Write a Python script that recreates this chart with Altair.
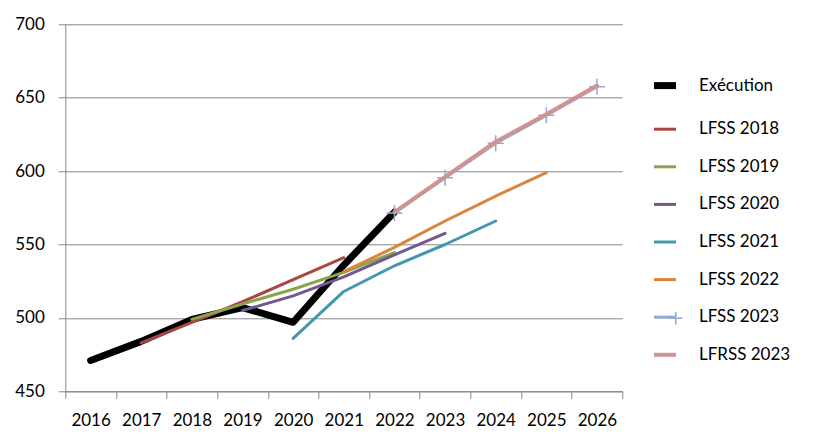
import altair as alt
import pandas as pd

# ---- data ----
series_names = ["Exécution", "LFSS 2018", "LFSS 2019", "LFSS 2020",
                "LFSS 2021", "LFSS 2022", "LFSS 2023", "LFRSS 2023"]

execution_years = [2016, 2017, 2018, 2019, 2020, 2021, 2022]
execution = [471, 484, 499, 507, 497, 536, 572]

lfss2018_years = [2017, 2018, 2019, 2020, 2021]
lfss2018 = [483, 497, 511, 526, 541]

lfss2019_years = [2018, 2019, 2020, 2021, 2022]
lfss2019 = [499, 509.5, 519.5, 531, 544.5]

lfss2020_years = [2019, 2020, 2021, 2022, 2023]
lfss2020 = [505, 515, 528, 543, 557.5]

lfss2021_years = [2020, 2021, 2022, 2023, 2024]
lfss2021 = [486, 518, 535.5, 550, 566]

lfss2022_years = [2021, 2022, 2023, 2024, 2025]
lfss2022 = [531.5, 548, 566, 583, 599]

lfss2023_years = [2022, 2023, 2024, 2025, 2026]
lfss2023 = [571.5, 595.5, 619, 638, 657.5]

lfrss2023_years = [2022, 2023, 2024, 2025, 2026]
lfrss2023 = [572, 596, 620, 638.7, 658.3]

x_tick_years = list(range(2016, 2027))
y_ticks = [450, 500, 550, 600, 650, 700]

colors = ["#000000", "#AA4643", "#89A54E", "#71588F",
          "#4198AF", "#DB843D", "#93A9CF", "#D19392"]
widths = [7, 3, 3, 3, 3, 3, 3, 4]

all_series = [
    ("Exécution", execution_years, execution),
    ("LFSS 2018", lfss2018_years, lfss2018),
    ("LFSS 2019", lfss2019_years, lfss2019),
    ("LFSS 2020", lfss2020_years, lfss2020),
    ("LFSS 2021", lfss2021_years, lfss2021),
    ("LFSS 2022", lfss2022_years, lfss2022),
    ("LFSS 2023", lfss2023_years, lfss2023),
    ("LFRSS 2023", lfrss2023_years, lfrss2023),
]
rows = []
for name, yrs, vals in all_series:
    for yr, v in zip(yrs, vals):
        rows.append({"series": name, "year": yr, "value": v, "mk": name})
df = pd.DataFrame(rows)

FONT = "Lato"
GRAY = "#868686"

x_enc = alt.X(
    "year:Q",
    scale=alt.Scale(domain=[x_tick_years[0] - 0.5, x_tick_years[-1] + 0.5], nice=False, zero=False),
    axis=alt.Axis(
        values=[y - 0.5 for y in x_tick_years] + [x_tick_years[-1] + 0.5],
        labelExpr="datum.value > 2026 ? '' : format(datum.value + 0.5, 'd')",
        labelOffset=25.3, tickSize=7, labelPadding=14, grid=False, title=None,
        labelFlush=False, labelOverlap=False, labelBound=False,
    ),
)
y_enc = alt.Y(
    "value:Q",
    scale=alt.Scale(domain=[450, 700], nice=False, zero=False),
    axis=alt.Axis(values=y_ticks, tickSize=7, labelPadding=14, grid=True, title=None),
)

legend_cfg = dict(
    title=None, orient="none", legendX=591.2, legendY=52.8,
    symbolType="M-2.2,0H2.2", symbolSize=100, labelFont=FONT, labelFontSize=17,
    labelColor="black", labelOffset=25.5, rowPadding=19.6, padding=0,
)

color_enc = alt.Color(
    "series:N",
    scale=alt.Scale(domain=series_names, range=colors),
    legend=alt.Legend(**legend_cfg),
)
width_enc = alt.StrokeWidth(
    "series:N",
    scale=alt.Scale(type="ordinal", domain=series_names, range=widths),
    legend=alt.Legend(**legend_cfg),
)

base = alt.Chart(df)

lines_main = base.transform_filter(
    alt.datum.series != "LFRSS 2023"
).mark_line(strokeCap="round", strokeJoin="round").encode(
    x=x_enc, y=y_enc, color=color_enc, strokeWidth=width_enc,
    order=alt.Order("year:Q"),
)

markers = base.transform_filter(
    alt.datum.series == "LFSS 2023"
).mark_point(filled=False, size=256, strokeWidth=1.5, color="#93A9CF", opacity=1).encode(
    x=x_enc, y=y_enc,
    shape=alt.Shape(
        "mk:N",
        scale=alt.Scale(domain=["LFSS 2023"], range=["M-1,0H1M0,-1V1"]),
        legend=alt.Legend(
            title=None, orient="none", legendX=603, legendY=286.5,
            labelExpr="''", symbolSize=169, symbolStrokeColor="#93A9CF",
            symbolStrokeWidth=1.5, symbolFillColor="transparent", padding=0,
            labelFontSize=1,
        ),
    ),
)

line_top = base.transform_filter(
    alt.datum.series == "LFRSS 2023"
).mark_line(strokeCap="round", strokeJoin="round").encode(
    x=x_enc, y=y_enc, color=color_enc, strokeWidth=width_enc,
    order=alt.Order("year:Q"),
)

chart = alt.layer(lines_main, markers, line_top).properties(
    width=557, height=367,
    padding={"left": 57.3, "top": 16.3, "right": 185, "bottom": 40},
    autosize=alt.AutoSizeParams(type="none"),
).configure_view(stroke=None).configure_axis(
    labelFont=FONT, labelFontSize=17, labelColor="black",
    domainColor=GRAY, tickColor=GRAY, gridColor=GRAY, gridWidth=1, domainWidth=1,
    tickWidth=1,
).configure_legend(
    labelFont=FONT, labelFontSize=17,
)

chart.save("out.html", embed_options={"renderer": "svg", "actions": False})
